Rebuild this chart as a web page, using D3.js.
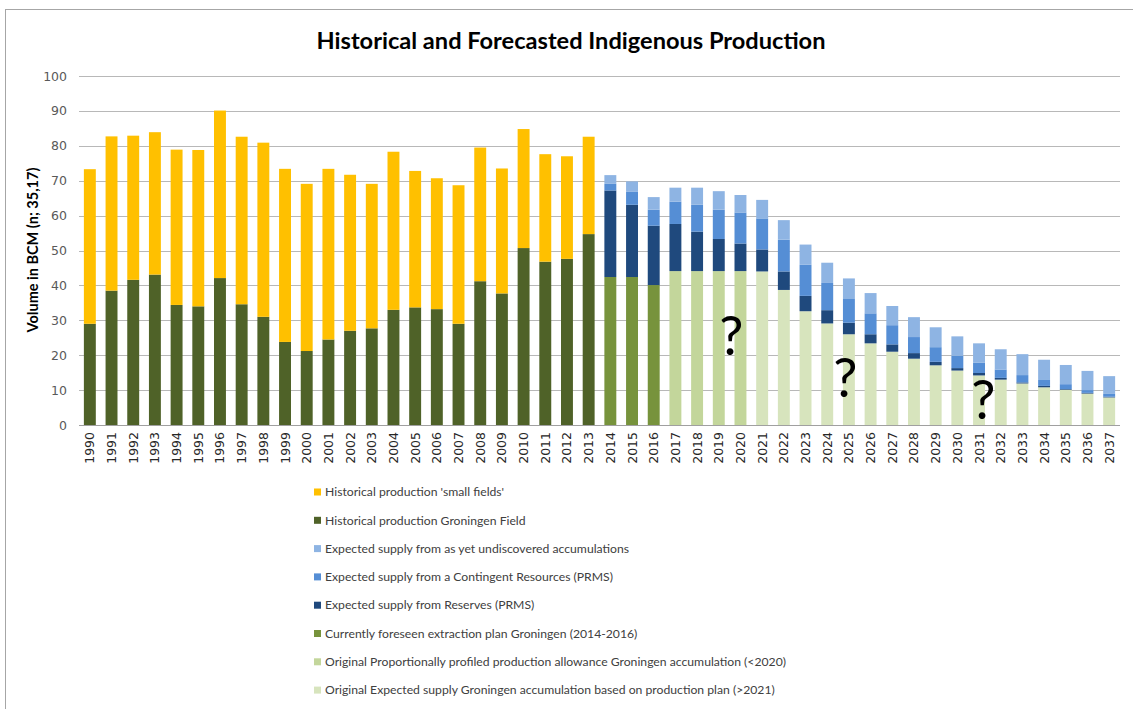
<!DOCTYPE html>
<html>
<head>
<meta charset="utf-8">
<script src="https://cdn.jsdelivr.net/npm/d3@7/dist/d3.min.js"></script>
<style>
  body { margin: 0; background: #fff; }
  svg { display: block; }
</style>
</head>
<body>
<div id="chart"></div>
<script>
// categories
var years = [1990,1991,1992,1993,1994,1995,1996,1997,1998,1999,
             2000,2001,2002,2003,2004,2005,2006,2007,2008,2009,
             2010,2011,2012,2013,2014,2015,2016,2017,2018,2019,
             2020,2021,2022,2023,2024,2025,2026,2027,2028,2029,
             2030,2031,2032,2033,2034,2035,2036,2037];

// series (BCM), one value per year, 0 where the series is absent
var groningenHist = [29.0,38.5,41.6,43.1,34.4,34.0,42.1,34.6,31.0,23.8,
                     21.2,24.5,27.0,27.7,33.0,33.7,33.2,29.0,41.2,37.7,
                     50.7,46.8,47.6,54.7,0,0,0,0,0,0,
                     0,0,0,0,0,0,0,0,0,0,
                     0,0,0,0,0,0,0,0];
var smallFields = [44.3,44.2,41.3,40.8,44.5,44.8,48.0,48.0,49.9,49.6,
                   47.9,48.9,44.7,41.4,45.3,39.1,37.5,39.7,38.3,35.8,
                   34.1,30.8,29.4,27.9,0,0,0,0,0,0,
                   0,0,0,0,0,0,0,0,0,0,
                   0,0,0,0,0,0,0,0];
var foreseen = [0,0,0,0,0,0,0,0,0,0,
                0,0,0,0,0,0,0,0,0,0,
                0,0,0,0,42.4,42.4,40.1,0,0,0,
                0,0,0,0,0,0,0,0,0,0,
                0,0,0,0,0,0,0,0];
var proportional = [0,0,0,0,0,0,0,0,0,0,
                    0,0,0,0,0,0,0,0,0,0,
                    0,0,0,0,0,0,0,44.1,44.1,44.1,
                    44.1,0,0,0,0,0,0,0,0,0,
                    0,0,0,0,0,0,0,0];
var expectedGron = [0,0,0,0,0,0,0,0,0,0,
                    0,0,0,0,0,0,0,0,0,0,
                    0,0,0,0,0,0,0,0,0,0,
                    0,44.0,38.7,32.6,29.1,26.0,23.4,21.0,19.0,17.1,
                    15.6,14.2,13.0,11.9,10.8,10.1,9.0,7.9];
var reserves = [0,0,0,0,0,0,0,0,0,0,
                0,0,0,0,0,0,0,0,0,0,
                0,0,0,0,24.8,20.7,17.0,13.5,11.3,9.2,
                7.9,6.3,5.3,4.4,3.8,3.3,2.6,2.1,1.6,1.0,
                0.7,0.7,0.5,0.3,0.4,0.2,0.2,0.2];
var contingent = [0,0,0,0,0,0,0,0,0,0,
                  0,0,0,0,0,0,0,0,0,0,
                  0,0,0,0,1.9,3.7,4.6,6.4,7.7,8.4,
                  8.9,8.9,9.1,8.9,7.8,6.8,6.0,5.5,4.6,4.2,
                  3.5,3.0,2.4,2.1,1.7,1.4,0.8,0.8];
var undiscovered = [0,0,0,0,0,0,0,0,0,0,
                    0,0,0,0,0,0,0,0,0,0,
                    0,0,0,0,2.5,3.0,3.6,4.0,4.9,5.3,
                    5.0,5.3,5.6,5.8,5.8,5.9,5.8,5.5,5.7,5.7,
                    5.6,5.5,5.8,6.0,5.8,5.5,5.5,5.1];

var yTicks = [0,10,20,30,40,50,60,70,80,90,100];

// question marks drawn over the forecast
var notes = [{year: 2019, shift: 0.58, value: 20.1},
             {year: 2025, shift: -0.16, value: 8.0},
             {year: 2031, shift: 0.2, value: 1.7}];

// stacking order bottom -> top
var series = [
  {key: "groningenHist", values: groningenHist, color: "#4F6228", label: "Historical production Groningen Field"},
  {key: "foreseen", values: foreseen, color: "#77933C", label: "Currently foreseen extraction plan Groningen (2014-2016)"},
  {key: "proportional", values: proportional, color: "#C3D69B", label: "Original Proportionally profiled production allowance Groningen accumulation (<2020)"},
  {key: "expectedGron", values: expectedGron, color: "#D7E4BD", label: "Original Expected supply Groningen accumulation based on production plan (>2021)"},
  {key: "reserves", values: reserves, color: "#1F497D", label: "Expected supply from Reserves (PRMS)"},
  {key: "contingent", values: contingent, color: "#558ED5", label: "Expected supply from a Contingent Resources (PRMS)"},
  {key: "undiscovered", values: undiscovered, color: "#8EB4E3", label: "Expected supply from as yet undiscovered accumulations"},
  {key: "smallFields", values: smallFields, color: "#FFC000", label: "Historical production 'small fields'"}
];
var legendOrder = ["smallFields","groningenHist","undiscovered","contingent","reserves","foreseen","proportional","expectedGron"];

var W = 1133, H = 709;
var plot = {left: 79, right: 1120, top: 76, bottom: 425};

var svg = d3.select("#chart").append("svg").attr("width", W).attr("height", H);

// chart frame (only left/top visible in the picture)
svg.append("rect").attr("x", 5.5).attr("y", 9.5).attr("width", W + 20).attr("height", H + 20)
  .attr("fill", "none").attr("stroke", "#A6A6A6").attr("stroke-width", 1);

var x = d3.scaleBand().domain(years).range([plot.left, plot.right])
  .paddingInner(0.45).paddingOuter(0.225);
var y = d3.scaleLinear().domain([0, 100]).range([plot.bottom, plot.top]);

// gridlines
svg.append("g").selectAll("line").data(yTicks).enter().append("line")
  .attr("x1", plot.left).attr("x2", plot.right)
  .attr("y1", function(d){ return Math.round(y(d)) + 0.5; })
  .attr("y2", function(d){ return Math.round(y(d)) + 0.5; })
  .attr("stroke", function(d){ return d == 0 ? "#A0A0A0" : "#B8B8B8"; })
  .attr("stroke-width", 1.2);

// y tick labels
svg.append("g").selectAll("text").data(yTicks).enter().append("text")
  .attr("x", 67).attr("y", function(d){ return y(d); }).attr("dy", "0.36em")
  .attr("text-anchor", "end")
  .style("font-family", "DejaVu Sans").style("font-size", "12.5px").style("fill", "#595959")
  .text(function(d){ return d; });

// stacked bars
var rows = years.map(function(yr, i) {
  var r = {year: yr};
  series.forEach(function(s){ r[s.key] = s.values[i]; });
  return r;
});
var stack = d3.stack().keys(series.map(function(s){ return s.key; }));
var layers = stack(rows);

svg.append("g").selectAll("g").data(layers).enter().append("g")
  .attr("fill", function(d, i){ return series[i].color; })
  .selectAll("rect").data(function(d){ return d; }).enter()
  .filter(function(d){ return d[1] - d[0] > 0; })
  .append("rect")
  .attr("x", function(d){ return x(d.data.year); })
  .attr("width", x.bandwidth())
  .attr("y", function(d){ return y(d[1]); })
  .attr("height", function(d){ return y(d[0]) - y(d[1]); });

// x tick labels (rotated)
svg.append("g").selectAll("text").data(years).enter().append("text")
  .attr("transform", function(d){
    return "translate(" + (x(d) + x.bandwidth() / 2) + "," + (plot.bottom + 7) + ") rotate(-90)";
  })
  .attr("dy", "0.36em").attr("text-anchor", "end")
  .style("font-family", "DejaVu Sans").style("font-size", "12.5px").style("fill", "#262626")
  .text(function(d){ return d; });

// question marks
svg.append("g").selectAll("text").data(notes).enter().append("text")
  .attr("x", function(d){ return x(d.year) + x.bandwidth() / 2 + d.shift * x.step(); })
  .attr("y", function(d){ return y(d.value); })
  .attr("text-anchor", "middle")
  .style("font-family", "Lato").style("font-size", "54px").style("fill", "#000")
  .text("?");

// title
svg.append("text").attr("x", 571).attr("y", 49).attr("text-anchor", "middle")
  .style("font-family", "Lato").style("font-weight", "bold").style("font-size", "23.6px").style("fill", "#000")
  .text("Historical and Forecasted Indigenous Production");

// y axis title
svg.append("text").attr("transform", "translate(38,250) rotate(-90)")
  .attr("text-anchor", "middle")
  .style("font-family", "Lato").style("font-weight", "bold").style("font-size", "14.5px").style("fill", "#000")
  .text("Volume in BCM (n; 35,17)");

// legend
var legend = svg.append("g").selectAll("g").data(legendOrder).enter().append("g")
  .attr("transform", function(d, i){ return "translate(314," + (492 + i * 28.3) + ")"; });
legend.append("rect").attr("x", 0).attr("y", -3.5).attr("width", 7).attr("height", 7)
  .attr("fill", function(k){ return series.find(function(s){ return s.key == k; }).color; });
legend.append("text").attr("x", 11).attr("dy", "0.35em")
  .style("font-family", "Lato").style("font-size", "12.2px").style("fill", "#404040")
  .text(function(k){ return series.find(function(s){ return s.key == k; }).label; });
</script>
</body>
</html>
